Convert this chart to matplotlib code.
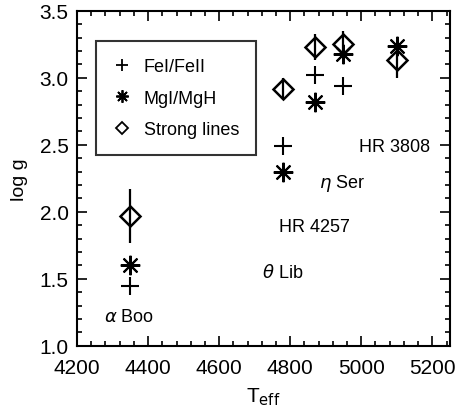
import matplotlib
matplotlib.use("Agg")
import matplotlib.pyplot as plt
from matplotlib.ticker import MultipleLocator

plt.rcParams['font.family'] = ['Liberation Sans', 'DejaVu Sans']

# star temperatures and gravities
teff = [4350, 4780, 4870, 4950, 5100]
logg_fe = [1.45, 2.49, 3.02, 2.94, None]
logg_mg = [1.60, 2.30, 2.82, 3.18, 3.24]
logg_strong = [1.97, 2.92, 3.23, 3.25, 3.13]
err_strong = [0.20, 0.08, 0.10, 0.10, 0.13]

star_names = [r'$\alpha$ Boo', r'$\theta$ Lib', 'HR 4257', r'$\eta$ Ser', 'HR 3808']
label_x = [4346, 4780, 4868, 4946, 5093]
label_y = [1.22, 1.55, 1.89, 2.22, 2.49]

fig = plt.figure(figsize=(4.56, 4.10), dpi=100)
ax = fig.add_axes([0.169, 0.154, 0.818, 0.817])

fe_x = [t for t, g in zip(teff, logg_fe) if g is not None]
fe_y = [g for g in logg_fe if g is not None]
ax.plot(fe_x, fe_y, ls='none', marker='+', ms=13, mew=1.5, color='k')
ax.plot(teff, logg_mg, ls='none', marker=(8, 2, 0), ms=14, mew=1.5, color='k')
ax.errorbar(teff, logg_strong, yerr=err_strong, ls='none', marker='D', ms=10,
            mew=1.8, mfc='none', mec='k', ecolor='k', elinewidth=1.6, capsize=0)

for name, x, y in zip(star_names, label_x, label_y):
    ax.text(x, y, name, ha='center', va='center', fontsize=13)

# legend drawn as a box with handles
h1, = ax.plot([], [], ls='none', marker='+', ms=9, mew=1.3, color='k')
h2, = ax.plot([], [], ls='none', marker=(8, 2, 0), ms=9, mew=1.3, color='k')
h3, = ax.plot([], [], ls='none', marker='D', ms=6, mew=1.3, mfc='none', mec='k')
leg = ax.legend([h1, h2, h3], ['FeI/FeII', 'MgI/MgH', 'Strong lines'],
                loc='upper left', bbox_to_anchor=(0.051, 0.910), fontsize=13,
                frameon=True, fancybox=False, edgecolor='k', handlelength=1.0,
                handletextpad=0.7, labelspacing=0.8, borderpad=0.95,
                borderaxespad=0)
leg.get_frame().set_linewidth(1.5)

ax.set_xlim(4200, 5250)
ax.set_ylim(1.0, 3.5)
ax.xaxis.set_major_locator(MultipleLocator(200))
ax.xaxis.set_minor_locator(MultipleLocator(40))
ax.yaxis.set_major_locator(MultipleLocator(0.5))
ax.yaxis.set_minor_locator(MultipleLocator(0.1))
ax.yaxis.set_major_formatter(matplotlib.ticker.FormatStrFormatter('%.1f'))
ax.tick_params(which='both', direction='in', top=True, right=True, labelsize=15, width=1.2)
ax.tick_params(axis='x', pad=9)
ax.tick_params(axis='y', pad=6)
ax.tick_params(which='major', length=7)
ax.tick_params(which='minor', length=3.5)
for s in ax.spines.values():
    s.set_linewidth(1.5)

ax.set_xlabel(r'T$_{\rm eff}$', fontsize=15, labelpad=6)
ax.set_ylabel('log g', fontsize=14, labelpad=8)

fig.savefig('out.png', dpi=100)
